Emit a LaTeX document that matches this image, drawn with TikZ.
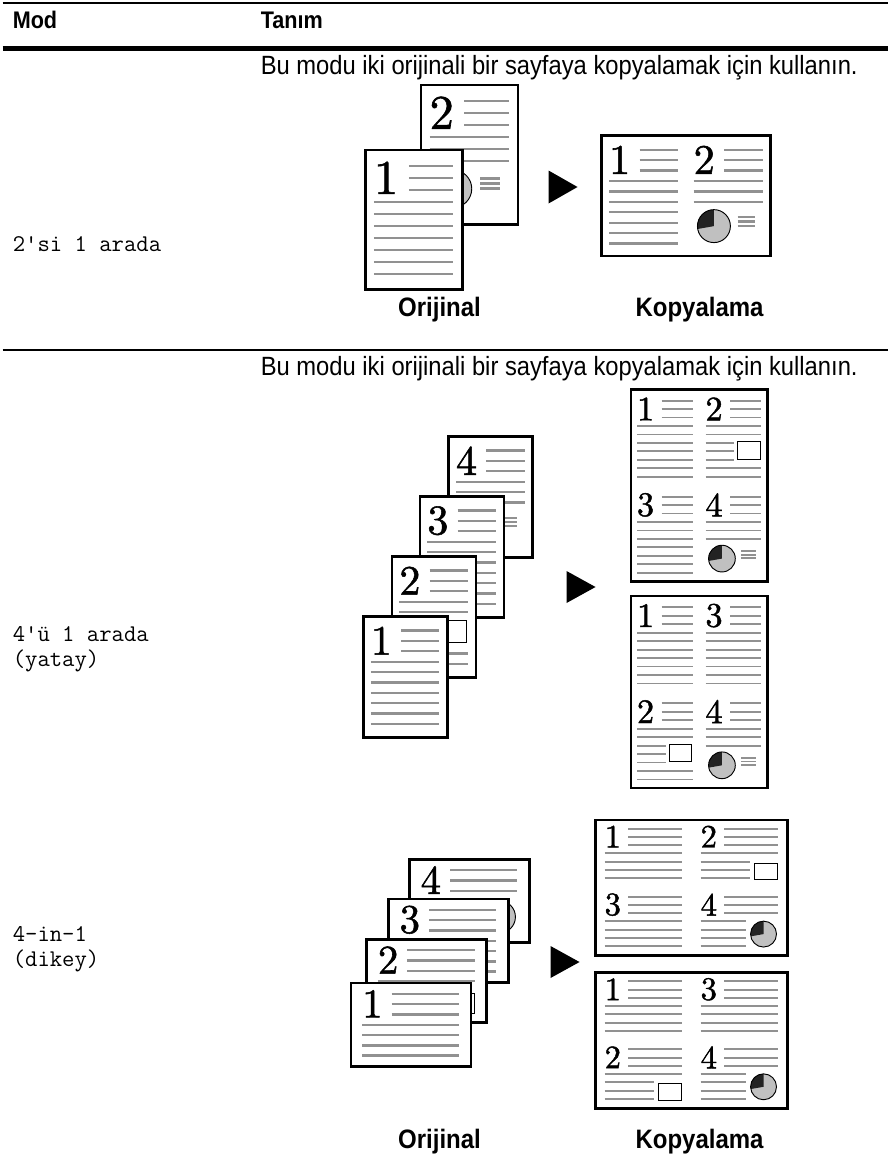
\documentclass[tikz,border=0pt]{standalone}
\usepackage{graphicx}
\usepackage{fontspec}
\newfontfamily\arialfont[FakeStretch=0.9]{Liberation Sans}
\newfontfamily\numfont[FakeBold=1.3]{Latin Modern Roman}

\definecolor{linegray}{RGB}{145,145,145}
\definecolor{piegray}{RGB}{192,192,192}
\definecolor{piedark}{RGB}{35,35,35}

\tikzset{
  txtline/.style={draw=linegray, line width=\lw pt},
  sheet/.style={draw=black, fill=white, line width=2pt},
  picbox/.style={draw=black, fill=white, line width=0.8pt},
  hdr/.style={font=\arialfont\bfseries\fontsize{18}{21}\selectfont, inner sep=0pt, anchor=base west},
  desc/.style={font=\arialfont\fontsize{19.8}{23}\selectfont, inner sep=0pt, anchor=base west},
  modetext/.style={font=\ttfamily\fontsize{18}{21}\selectfont, inner sep=0pt, anchor=base west},
  caption/.style={font=\arialfont\bfseries\fontsize{20}{23}\selectfont, inner sep=0pt, anchor=base},
  pagenum/.style={inner sep=0pt, font={\numfont\fontsize{10}{10}\selectfont}},
}

% pie chart: centre x, centre y, radius
\newcommand{\piechart}[3]{%
  \fill[piegray] (#1,#2) circle (#3);
  \fill[piedark] (#1,#2) -- ++(-90:#3) arc (-90:-190:#3) -- cycle;
  \draw[line width=0.7pt] (#1,#2) circle (#3);}

% portrait sheet, 100 wide and 144 high before scaling
% number and the three short lines beside it
\newcommand{\porthead}[2]{%
  \pgfmathsetmacro\lw{2.0*#1}%
  \pgfmathsetmacro\dsc{3.75*#1}%
  \node[pagenum] (num) at (21.5,28.6) {\scalebox{\dsc}{#2}};
  \foreach \row in {0,1,2}
    \draw[txtline] (45,16.5+12.35*\row) -- (90.5,16.5+12.35*\row);}

% args: x, y, scale, number
\newcommand{\porta}[4]{%
  \begin{scope}[shift={(#1,#2)}, scale=#3]
    \porthead{#3}{#4}
    \foreach \row in {3,...,9}
      \draw[txtline] (9,16.5+12.35*\row) -- (90.5,16.5+12.35*\row);
  \end{scope}}
\newcommand{\portb}[4]{%
  \begin{scope}[shift={(#1,#2)}, scale=#3]
    \porthead{#3}{#4}
    \foreach \row in {3,4,8,9}
      \draw[txtline] (9,16.5+12.35*\row) -- (90.5,16.5+12.35*\row);
    \foreach \row in {5,6,7}
      \draw[txtline] (9,16.5+12.35*\row) -- (51,16.5+12.35*\row);
    \draw[picbox] (56,76) rectangle (89,102);
  \end{scope}}
\newcommand{\portc}[4]{%
  \begin{scope}[shift={(#1,#2)}, scale=#3]
    \porthead{#3}{#4}
    \foreach \row in {3,4,5}
      \draw[txtline] (9,16.5+12.35*\row) -- (90.5,16.5+12.35*\row);
    \piechart{33}{107}{19.5}
    \foreach \yy in {96.5,101.5,106.5}
      \draw[txtline] (61,\yy) -- (82,\yy);
  \end{scope}}

% landscape sheet, 100 wide and 69.4 high before scaling
\newcommand{\landhead}[2]{%
  \pgfmathsetmacro\lw{1.55*#1}%
  \pgfmathsetmacro\dsc{2.55*#1}%
  \node[pagenum] (num) at (18,17.3) {\scalebox{\dsc}{#2}};
  \foreach \row in {0,1,2}
    \draw[txtline] (34,9+8.6*\row) -- (90,9+8.6*\row);}

\newcommand{\landa}[4]{%
  \begin{scope}[shift={(#1,#2)}, scale=#3]
    \landhead{#3}{#4}
    \foreach \row in {3,...,6}
      \draw[txtline] (9.5,9+8.6*\row) -- (90,9+8.6*\row);
  \end{scope}}
\newcommand{\landb}[4]{%
  \begin{scope}[shift={(#1,#2)}, scale=#3]
    \landhead{#3}{#4}
    \draw[txtline] (9.5,34.8) -- (90,34.8);
    \foreach \row in {4,5,6}
      \draw[txtline] (9.5,9+8.6*\row) -- (61,9+8.6*\row);
    \draw[picbox] (66,45) rectangle (90,62);
  \end{scope}}
\newcommand{\landc}[4]{%
  \begin{scope}[shift={(#1,#2)}, scale=#3]
    \landhead{#3}{#4}
    \foreach \row in {3,...,6}
      \draw[txtline] (9.5,9+8.6*\row) -- (57,9+8.6*\row);
    \piechart{75}{48}{13.5}
  \end{scope}}

\begin{document}
\begin{tikzpicture}[x=0.75pt,y=0.75pt,yscale=-1,xscale=1]
\path[fill=white] (0,0) rectangle (885,1168);

% table head
\draw[line width=1.5pt] (0,2.5) -- (885,2.5);
\node[hdr] (modhead) at (10,28) {Mod};
\node[hdr] (tanimhead) at (258,28) {Tanım};
\draw[line width=3.8pt] (0,48.5) -- (885,48.5);

% 2'si 1 arada
\node[desc] (desca) at (258,74) {Bu modu iki orijinali bir sayfaya kopyalamak için kullanın.};
\node[modetext] (modea) at (10,251) {2'si 1 arada};
\draw[sheet] (418.3,85) rectangle ++(97,139.7);
\portc{418.3}{85}{0.97}{2}
\draw[sheet] (362.7,150) rectangle ++(97,139.7);
\porta{362.7}{150}{0.97}{1}
\fill (546,170.5) -- (575,187) -- (546,203.5) -- cycle;
\draw[sheet] (599,135.7) rectangle (768,256);
\porta{599}{135.7}{0.845}{1}
\portc{683.5}{135.7}{0.845}{2}
\node[caption] (origa) at (437,316) {Orijinal};
\node[caption] (kopya) at (697,316) {Kopyalama};

\draw[line width=1.6pt] (0,350) -- (885,350);

% 4'u 1 arada, yatay
\node[desc] (descb) at (258,375) {Bu modu iki orijinali bir sayfaya kopyalamak için kullanın.};
\node[modetext] (modeb) at (10,641) {4'ü 1 arada};
\node[modetext] (modeb2) at (10,666) {(yatay)};
\draw[sheet] (446,436.7) rectangle ++(84,121);
\portc{446}{436.7}{0.84}{4}
\draw[sheet] (417.3,496.7) rectangle ++(84,121);
\porta{417.3}{496.7}{0.84}{3}
\draw[sheet] (389.3,556.7) rectangle ++(84,121);
\portb{389.3}{556.7}{0.84}{2}
\draw[sheet] (360.7,616.7) rectangle ++(84,121);
\porta{360.7}{616.7}{0.84}{1}
\fill (564,571) -- (593,587) -- (564,603) -- cycle;
\draw[sheet] (628.3,389.3) rectangle (765,581.7);
\porta{628.3}{389.3}{0.685}{1}
\portb{696.8}{389.3}{0.685}{2}
\porta{628.3}{485.3}{0.685}{3}
\portc{696.8}{485.3}{0.685}{4}
\draw[sheet] (628.3,596) rectangle (765,788);
\porta{628.3}{596}{0.685}{1}
\porta{696.8}{596}{0.685}{3}
\portb{628.3}{692}{0.685}{2}
\portc{696.8}{692}{0.685}{4}

% 4-in-1, dikey
\node[modetext] (modec) at (10,941) {4-in-1};
\node[modetext] (modec2) at (10,966) {(dikey)};
\draw[sheet] (406.7,859.3) rectangle ++(120,83.3);
\landc{406.7}{859.3}{1.2}{4}
\draw[sheet] (385.7,899) rectangle ++(120,83.3);
\landa{385.7}{899}{1.2}{3}
\draw[sheet] (364,939.3) rectangle ++(120,83.3);
\landb{364}{939.3}{1.2}{2}
\draw[sheet] (348.3,983) rectangle ++(120,83.3);
\landa{348.3}{983}{1.2}{1}
\fill (548,946) -- (577,962) -- (548,978) -- cycle;
\draw[sheet] (593,820) rectangle (785,955.7);
\landa{593}{820}{0.96}{1}
\landb{689}{820}{0.96}{2}
\landa{593}{888}{0.96}{3}
\landc{689}{888}{0.96}{4}
\draw[sheet] (593,972.7) rectangle (785,1108.4);
\landa{593}{972.7}{0.96}{1}
\landa{689}{972.7}{0.96}{3}
\landb{593}{1040.7}{0.96}{2}
\landc{689}{1040.7}{0.96}{4}
\node[caption] (origb) at (437,1148) {Orijinal};
\node[caption] (kopyb) at (697,1148) {Kopyalama};
\end{tikzpicture}
\end{document}
